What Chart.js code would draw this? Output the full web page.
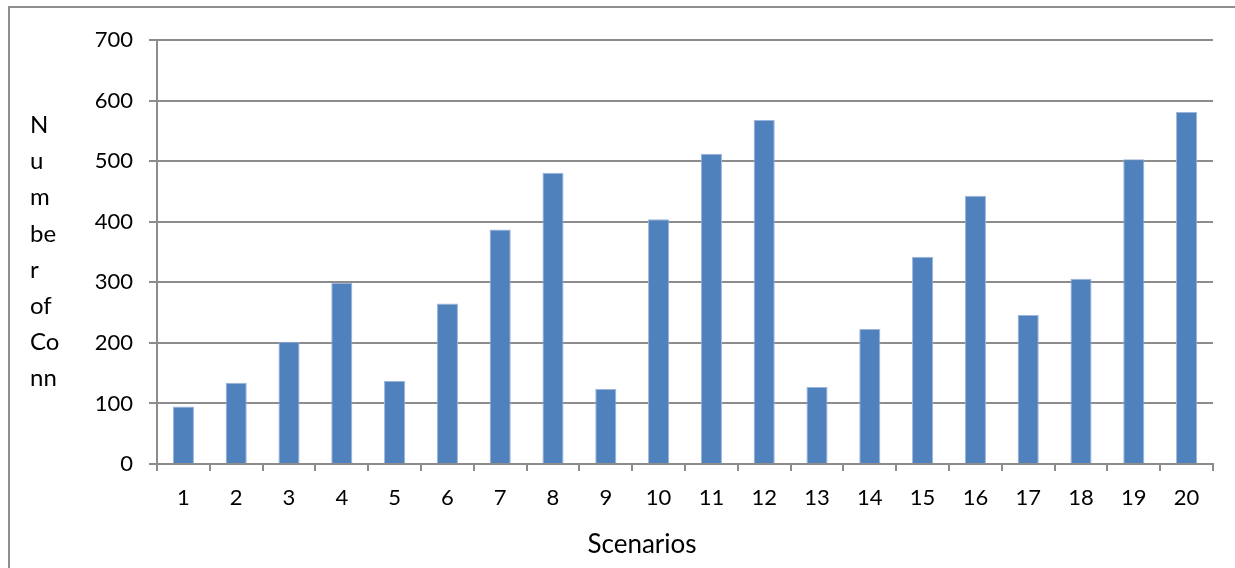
<!DOCTYPE html>
<html>
<head>
<meta charset="utf-8">
<script src="https://cdn.jsdelivr.net/npm/chart.js@4.4.1/dist/chart.umd.min.js"></script>
<style>
  html, body { margin: 0; padding: 0; background: #ffffff; overflow: hidden; }
  #wrap { position: relative; width: 1235px; height: 568px; }
  #frame {
    position: absolute; left: 8px; top: 6px; width: 1300px; height: 700px;
    border-left: 2px solid #8e8e8e; border-top: 2px solid #8e8e8e;
    box-sizing: border-box; pointer-events: none;
  }
  canvas { position: absolute; left: 0; top: 0; }
</style>
</head>
<body>
<div id="wrap">
  <div id="frame"></div>
  <canvas id="chart" width="1235" height="568"></canvas>
</div>
<script>
// Scenario numbers along the x axis
const scenarios = ['1','2','3','4','5','6','7','8','9','10','11','12','13','14','15','16','17','18','19','20'];
// Number of connections per scenario
const connections = [95, 134, 202, 299, 137, 265, 387, 481, 124, 404, 512, 568, 127, 223, 342, 443, 246, 306, 503, 581];
// Y axis title, broken into short stacked pieces
const yTitleLines = ['N', 'u', 'm', 'be', 'r', 'of', 'Co', 'nn'];
const xTitle = 'Scenarios';

const FONT = 'Lato, "Open Sans", sans-serif';
const AXIS_GREY = '#8c8c8c';

// Draws the stacked, upright y axis title and the x axis title
const axisTitles = {
  id: 'axisTitles',
  afterDraw(chart) {
    const ctx = chart.ctx;
    ctx.save();
    ctx.fillStyle = '#000000';
    ctx.textBaseline = 'alphabetic';

    ctx.font = '24px ' + FONT;
    ctx.textAlign = 'left';
    const firstBaseline = 133;
    const step = 36.2;
    yTitleLines.forEach((t, i) => ctx.fillText(t, 30, firstBaseline + i * step));

    ctx.font = '26px ' + FONT;
    ctx.textAlign = 'center';
    ctx.fillText(xTitle, 642, 553);
    ctx.restore();
  }
};

new Chart(document.getElementById('chart'), {
  type: 'bar',
  data: {
    labels: scenarios,
    datasets: [{
      data: connections,
      backgroundColor: '#4F81BD',
      borderColor: '#9AB4DB',
      borderWidth: 1,
      barPercentage: 0.4,
      categoryPercentage: 1.0
    }]
  },
  plugins: [axisTitles],
  options: {
    responsive: false,
    animation: false,
    devicePixelRatio: 1,
    layout: { padding: { left: 0, right: 22, top: 40, bottom: 0 } },
    plugins: {
      legend: { display: false },
      tooltip: { enabled: false }
    },
    scales: {
      x: {
        grid: {
          drawOnChartArea: false,
          drawTicks: true,
          tickLength: 7,
          color: AXIS_GREY,
          lineWidth: 2
        },
        border: { display: true, color: AXIS_GREY, width: 2 },
        ticks: {
          color: '#000000',
          font: { family: FONT, size: 22 },
          padding: 14,
          maxRotation: 0
        },
        afterFit(scale) { scale.height = 104; }
      },
      y: {
        min: 0,
        max: 700,
        ticks: {
          stepSize: 100,
          color: '#000000',
          font: { family: FONT, size: 22 },
          padding: 16
        },
        grid: {
          color: AXIS_GREY,
          lineWidth: 2,
          drawTicks: true,
          tickLength: 8
        },
        border: { display: true, color: AXIS_GREY, width: 2 },
        afterFit(scale) { scale.width = 157; }
      }
    }
  }
});
</script>
</body>
</html>
